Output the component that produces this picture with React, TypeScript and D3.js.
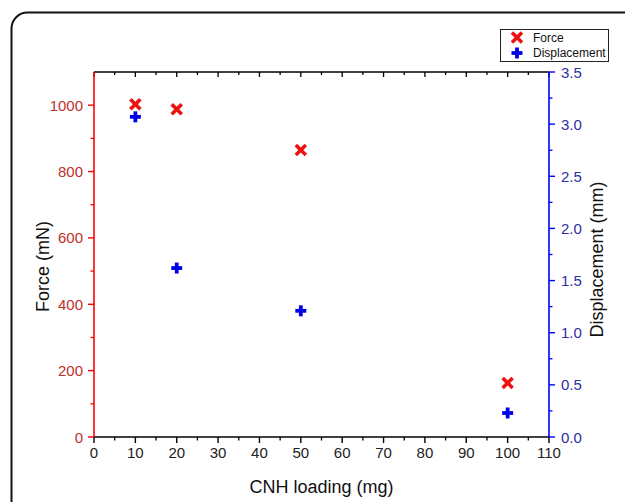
import React from "react";
import * as d3 from "d3";

const loadings = [10, 20, 50, 100];
const forceValues = [1003, 988, 865, 163];
const displacementValues = [3.07, 1.62, 1.21, 0.23];
const xTicks = [0, 10, 20, 30, 40, 50, 60, 70, 80, 90, 100, 110];
const forceTicks = [0, 200, 400, 600, 800, 1000];
const dispTicks = [0, 0.5, 1.0, 1.5, 2.0, 2.5, 3.0, 3.5];
const seriesNames = ["Force", "Displacement"];
const xTitle = "CNH loading (mg)";
const yLeftTitle = "Force (mN)";
const yRightTitle = "Displacement (mm)";

const W = 625, H = 502;
const L = 94, R = 549, T = 72, B = 437;
const FONT = "'Liberation Sans', Arial, sans-serif";
const RED = "#ff0000";
const BLUE = "#0000ff";
const RED_TXT = "#c0302c";
const BLUE_TXT = "#2e2ea6";

export default function App() {
  const x = d3.scaleLinear().domain([0, 110]).range([L, R]);
  const yF = d3.scaleLinear().domain([0, 1100]).range([B, T]);
  const yD = d3.scaleLinear().domain([0, 3.5]).range([B, T]);

  const xMinor = d3.range(5, 110, 10);
  const fMinor = d3.range(100, 1100, 200);
  const dMinor = d3.range(0.25, 3.5, 0.5);

  const cross = (cx: number, cy: number, key: string) => (
    <g key={key} stroke="#ee1111" strokeWidth={3.6} strokeLinecap="butt">
      <line x1={cx - 5} y1={cy - 5} x2={cx + 5} y2={cy + 5} />
      <line x1={cx - 5} y1={cy + 5} x2={cx + 5} y2={cy - 5} />
    </g>
  );
  const plus = (cx: number, cy: number, key: string) => (
    <g key={key} stroke="#0000e6" strokeWidth={3.8}>
      <line x1={cx - 5.5} y1={cy} x2={cx + 5.5} y2={cy} />
      <line x1={cx} y1={cy - 5.5} x2={cx} y2={cy + 5.5} />
    </g>
  );

  return (
    <svg width={W} height={H} style={{ position: "absolute", left: 0, top: 0, background: "#fff" }} fontFamily={FONT}>
      <rect x={0} y={0} width={W} height={H} fill="#fff" />
      <rect x={11.5} y={12.5} width={700} height={600} rx={16} fill="none" stroke="#111" strokeWidth={2} />

      {/* top axis */}
      <line x1={L} y1={T} x2={R} y2={T} stroke="#000" strokeWidth={1.5} />
      {xTicks.map((t) => (
        <line key={"tt" + t} x1={x(t)} x2={x(t)} y1={T} y2={T + 5} stroke="#000" strokeWidth={1.3} />
      ))}
      {xMinor.map((t) => (
        <line key={"tm" + t} x1={x(t)} x2={x(t)} y1={T} y2={T + 3} stroke="#000" strokeWidth={1.3} />
      ))}

      {/* bottom axis */}
      <line x1={L} y1={B} x2={R} y2={B} stroke="#000" strokeWidth={1.6} />
      {xTicks.map((t) => (
        <g key={"bt" + t}>
          <line x1={x(t)} x2={x(t)} y1={B} y2={B + 6} stroke="#000" strokeWidth={1.4} />
          <text x={x(t)} y={B + 21} textAnchor="middle" fontSize={15} fill="#222">{t}</text>
        </g>
      ))}
      {xMinor.map((t) => (
        <line key={"bm" + t} x1={x(t)} x2={x(t)} y1={B} y2={B + 3.5} stroke="#000" strokeWidth={1.3} />
      ))}

      {/* left axis */}
      <line x1={L} y1={T} x2={L} y2={B} stroke={RED} strokeWidth={1.6} />
      {forceTicks.map((t) => (
        <g key={"lt" + t}>
          <line x1={L - 6} x2={L} y1={yF(t)} y2={yF(t)} stroke={RED} strokeWidth={1.4} />
          <text x={L - 11} y={yF(t) + 5.5} textAnchor="end" fontSize={15} fill={RED_TXT}>{t}</text>
        </g>
      ))}
      {fMinor.map((t) => (
        <line key={"lm" + t} x1={L - 3.5} x2={L} y1={yF(t)} y2={yF(t)} stroke={RED} strokeWidth={1.3} />
      ))}

      {/* right axis */}
      <line x1={R} y1={T} x2={R} y2={B} stroke={BLUE} strokeWidth={1.6} />
      {dispTicks.map((t) => (
        <g key={"rt" + t}>
          <line x1={R} x2={R + 6} y1={yD(t)} y2={yD(t)} stroke={BLUE} strokeWidth={1.4} />
          <text x={R + 12} y={yD(t) + 5.5} textAnchor="start" fontSize={15} fill={BLUE_TXT}>{t.toFixed(1)}</text>
        </g>
      ))}
      {dMinor.map((t) => (
        <line key={"rm" + t} x1={R} x2={R + 3.5} y1={yD(t)} y2={yD(t)} stroke={BLUE} strokeWidth={1.3} />
      ))}

      {/* titles */}
      <text x={(L + R) / 2} y={B + 56} textAnchor="middle" fontSize={18} fill="#111">{xTitle}</text>
      <text transform={`translate(49, ${(T + B) / 2 + 12}) rotate(-90)`} textAnchor="middle" fontSize={18} fill="#111">{yLeftTitle}</text>
      <text transform={`translate(603, ${(T + B) / 2 + 5}) rotate(-90)`} textAnchor="middle" fontSize={18} fill="#111">{yRightTitle}</text>

      {/* data */}
      {loadings.map((l, i) => cross(x(l), yF(forceValues[i]), "f" + i))}
      {loadings.map((l, i) => plus(x(l), yD(displacementValues[i]), "d" + i))}

      {/* legend */}
      <rect x={500.5} y={29.5} width={108} height={32} fill="#fff" stroke="#222" strokeWidth={1} />
      {cross(517, 37.5, "lf")}
      {plus(517, 53, "ld")}
      <text x={533} y={41.5} fontSize={12} fill="#111">{seriesNames[0]}</text>
      <text x={533} y={57} fontSize={12} fill="#111">{seriesNames[1]}</text>
    </svg>
  );
}
